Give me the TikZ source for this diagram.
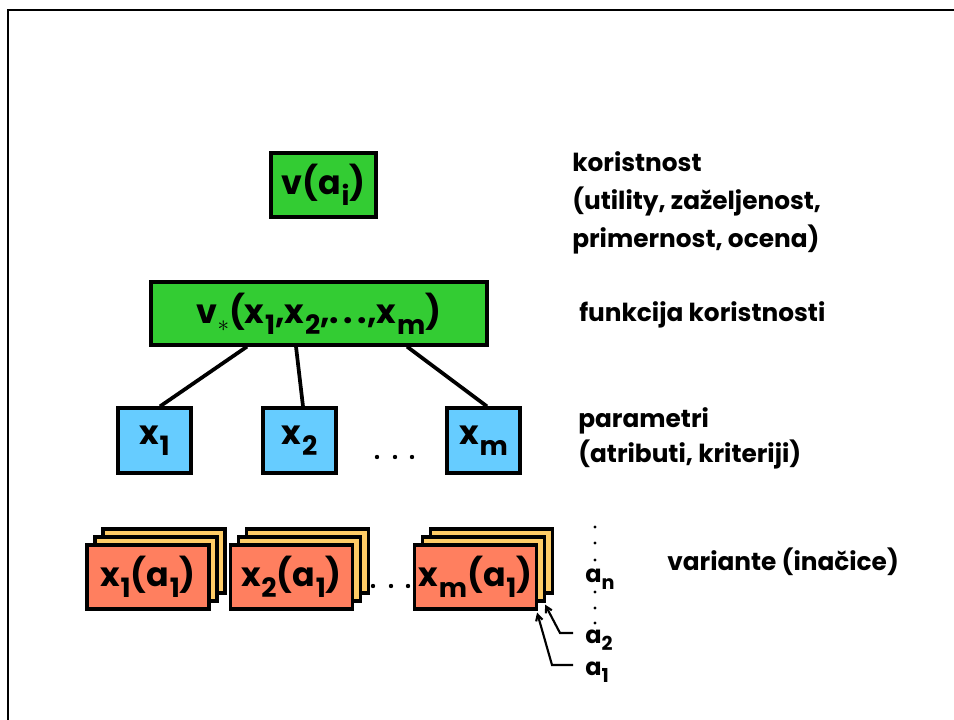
\documentclass[tikz,border=0pt]{standalone}
\usepackage{fontspec}
\setmainfont{Poppins}
\usetikzlibrary{arrows.meta,calc}

\definecolor{boxgreen}{HTML}{33CC33}
\definecolor{boxblue}{HTML}{66CCFF}
\definecolor{boxcoral}{HTML}{FF7F5F}
\definecolor{boxyellow}{HTML}{FFCC66}

% lowered, reduced index used in the box labels
\newcommand\lw[1]{\hspace{0.02em}\raisebox{-0.33em}{\scalebox{0.8}{#1}}}
\newcommand\spreaddots{.\hspace{0.14em}.\hspace{0.14em}.}

\tikzset{
  frameline/.style={line width=2.2pt, line cap=rect},
  link/.style={line width=2.8pt},
  pointer/.style={line width=1.6pt, -{Straight Barb[length=4.5pt,width=5pt]}},
  box/.style={draw=black, line width=2.4pt, inner sep=0pt,
    font=\bfseries\fontsize{25}{25}\selectfont},
  greenbox/.style={box, fill=boxgreen},
  bluebox/.style={box, fill=boxblue, minimum width=73*0.75pt, minimum height=65*0.75pt},
  frontcard/.style={box, fill=boxcoral, minimum width=122*0.75pt, minimum height=64*0.75pt},
  backcard/.style={box, fill=boxyellow, minimum width=122*0.75pt, minimum height=64*0.75pt},
  note/.style={anchor=base west, inner sep=0pt, font=\bfseries\fontsize{18.6}{18.6}\selectfont},
  idx/.style={anchor=base west, inner sep=0pt, font=\bfseries\fontsize{18}{18}\selectfont},
  dot/.style={fill=black},
}

\begin{document}
\begin{tikzpicture}[x=0.75pt, y=-0.75pt]
\useasboundingbox (0,0) rectangle (954,720);

% outer frame (top and left edges)
\draw[frameline] (8,722) -- (8,10) -- (956,10);

% utility and its function
\node[greenbox, minimum width=105*0.75pt, minimum height=64*0.75pt] (va) at (323.5,185) {v(a\lw{i})};
\node[greenbox, minimum width=336*0.75pt, minimum height=63*0.75pt] (vstar) at (319,313.5)
  {v\raisebox{-0.25em}{\fontsize{17}{17}\selectfont$\ast$}(x\lw{1},x\lw{2},\spreaddots,x\lw{m})};

% parameters
\node[bluebox] (x1) at (154.5,440.5) {x\lw{1}};
\node[bluebox] (x2) at (299.5,440.5) {x\lw{2}};
\node[bluebox] (xm) at (483.5,440.5) {x\lw{m}};

\draw[link] ($(va.south)+(3.5,0)$) -- ($(va.south)+(3.5,0)$ |- vstar.north);
\draw[link] ($(vstar.south)+(-72,0)$) -- ($(x1.north)+(5.5,0)$);
\draw[link] ($(vstar.south)+(-23,0)$) -- ($(x2.north)+(3.5,0)$);
\draw[link] ($(vstar.south)+(88,0)$) -- ($(xm.north)+(3.5,0)$);

\foreach \px in {377,395,412} \fill[dot] (\px,457) circle (2.2);

% variants: stacked cards per parameter
\foreach \name/\cx/\txt in {s1/148/{x\lw{1}(a\lw{1})}, s2/291.5/{x\lw{2}(a\lw{1})}, s3/475.5/{x\lw{m}(a\lw{1})}} {
  \node[backcard] (\name b) at (\cx+16,561) {};
  \node[backcard] (\name m) at (\cx+8,569) {};
  \node[frontcard] (\name f) at (\cx,577) {\txt};
}

\foreach \px in {373,391,408} \fill[dot] (\px,586) circle (2.2);

% alternatives a_1 ... a_n
\foreach \py in {527,543,560,592,608,623} \fill[dot] (595,\py) circle (1.6);
\node[idx] (an) at (585,582) {a\raisebox{-0.3em}{\scalebox{0.8}{n}}};
\node[idx] (a2) at (585,643) {a\raisebox{-0.3em}{\scalebox{0.8}{2}}};
\node[idx] (a1) at (585,675) {a\raisebox{-0.3em}{\scalebox{0.8}{1}}};

\coordinate (p2) at (573,633);
\coordinate (p1) at (573,665);
\draw[pointer] (p2) -- ++(-13,0) -- ($(s3m.south east)+(-1,2)$);
\draw[pointer] (p1) -- ++(-21,0) -- ($(s3f.south east)+(-1,2)$);

% explanations
\node[note] (k1) at (572,172) {koristnost};
\node[note] (k2) at (572,210) {(utility, zaželjenost,};
\node[note] (k3) at (572,248) {primernost, ocena)};
\node[note] (f1) at (579,322) {funkcija koristnosti};
\node[note] (p1t) at (578,427) {parametri};
\node[note] (p2t) at (578,463) {(atributi, kriteriji)};
\node[note] (v1) at (667,570) {variante (inačice)};
\end{tikzpicture}
\end{document}
